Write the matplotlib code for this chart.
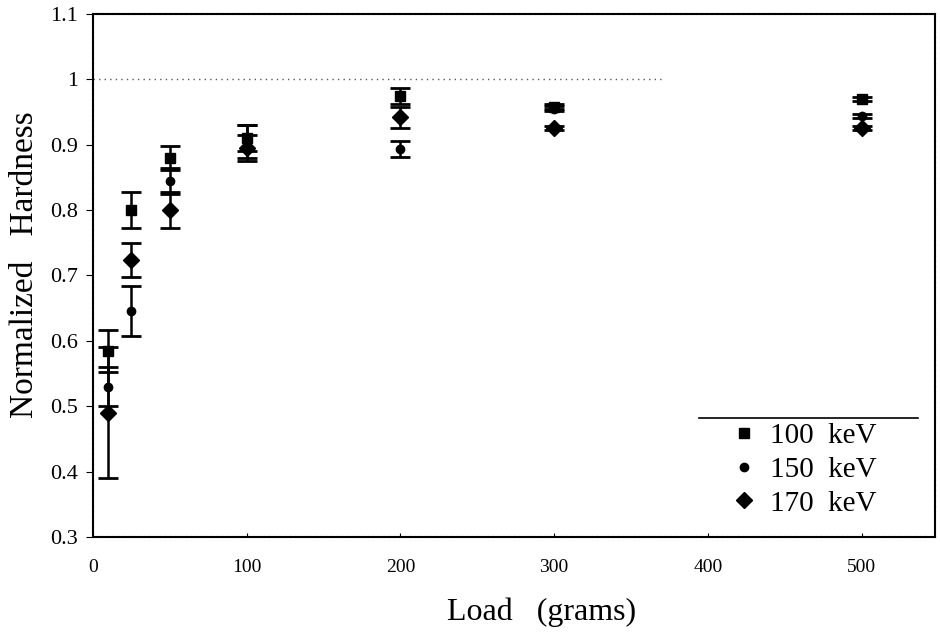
import matplotlib
matplotlib.use("Agg")
import matplotlib.pyplot as plt
from matplotlib.ticker import FuncFormatter

plt.rcParams['font.family'] = ['Liberation Serif', 'DejaVu Serif']

# data
load = [10, 25, 50, 100, 200, 300, 500]
h100 = [0.585, 0.800, 0.880, 0.910, 0.975, 0.958, 0.970]
e100 = [0.032, 0.028, 0.018, 0.020, 0.012, 0.004, 0.003]
h150 = [0.530, 0.646, 0.845, 0.905, 0.893, 0.955, 0.944]
e150 = [0.030, 0.038, 0.020, 0.025, 0.012, 0.004, 0.003]
h170 = [0.490, 0.724, 0.800, 0.895, 0.942, 0.926, 0.926]
e170 = [0.100, 0.026, 0.027, 0.020, 0.016, 0.003, 0.003]
labels = ['100  keV', '150  keV', '170  keV']

fig = plt.figure(figsize=(9.4, 6.34), dpi=100)
ax = fig.add_axes([0.099, 0.153, 0.896, 0.825])

# reference line at 1 (dotted, only partly drawn in the original)
ax.plot([0, 370], [1, 1], color='0.35', lw=1, ls=(0, (1, 3)))

series = [(h100, e100, 's', 7), (h150, e150, 'o', 6), (h170, e170, 'D', 8)]
handles = []
for (h, e, m, ms), lab in zip(series, labels):
    ax.errorbar(load, h, yerr=e, fmt='none', ecolor='black', elinewidth=1.8,
                capsize=7, capthick=2)
    p, = ax.plot(load, h, ls='none', marker=m, ms=ms, color='black', label=lab)
    handles.append(p)

ax.set_xlim(0, 548)
ax.set_ylim(0.3, 1.1)
ax.set_xticks([0, 100, 200, 300, 400, 500])
ax.set_yticks([0.3, 0.4, 0.5, 0.6, 0.7, 0.8, 0.9, 1.0, 1.1])
ax.yaxis.set_major_formatter(FuncFormatter(lambda v, p: f"{v:g}"))
ax.tick_params(axis='y', direction='out', length=5, labelsize=16, pad=6)
ax.tick_params(axis='x', direction='in', length=3, labelsize=14, pad=16)
for s in ax.spines.values():
    s.set_linewidth(1.5)
    s.set_linestyle((0, (2, 0.5)))

ax.set_xlabel('Load   (grams)', fontsize=23)
ax.xaxis.set_label_coords(0.532, -0.115)
ax.set_ylabel('Normalized   Hardness', fontsize=24)
ax.yaxis.set_label_coords(-0.063, 0.52)

leg = ax.legend(handles=handles, loc='lower right', bbox_to_anchor=(0.955, 0.0),
                frameon=False, fontsize=21, handlelength=0.6, handletextpad=0.6,
                labelspacing=0.25, borderpad=0.2, numpoints=1)
# line above the legend
ax.plot([0.72, 0.98], [0.227, 0.227], transform=ax.transAxes, color='black', lw=1.2)

fig.savefig('out.png', dpi=100)
